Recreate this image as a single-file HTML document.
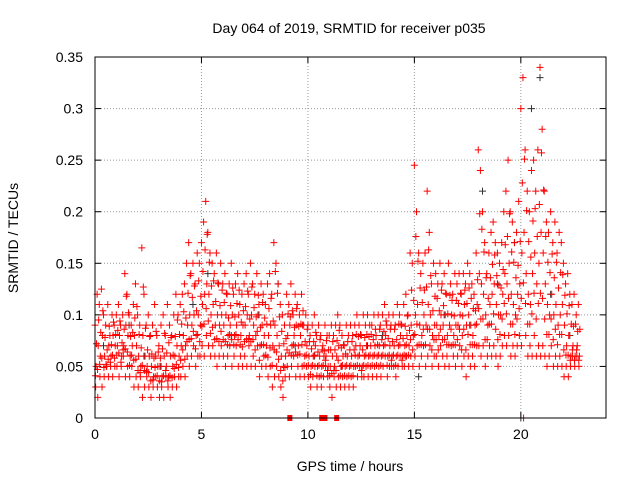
<!DOCTYPE html>
<html><head><meta charset="utf-8"><style>
body{margin:0;background:#fff}
svg text{font-family:"Liberation Sans",sans-serif;font-size:14px;fill:#000}
</style></head><body>
<svg id="chart" width="640" height="480" xmlns="http://www.w3.org/2000/svg">
<rect width="640" height="480" fill="#fff"/>
<text x="349" y="33" text-anchor="middle">Day 064 of 2019, SRMTID for receiver p035</text>
<text transform="translate(18,238) rotate(-90)" text-anchor="middle">SRMTID / TECUs</text>
<text x="350" y="471" text-anchor="middle">GPS time / hours</text>
<g id="grid"></g><g id="ticks"></g><g id="marks"></g>
<rect x="95" y="57" width="511" height="361" fill="none" stroke="#000" stroke-width="1"/>
</svg>
<script>
const xTicks=[0,5,10,15,20];
const yTicks=[0,0.05,0.1,0.15,0.2,0.25,0.3,0.35];
const yTickLabels=["0","0.05","0.1","0.15","0.2","0.25","0.3","0.35"];
const step=0.1;
const highVals=[.09,.12,.11,.125,.10,.09,.11,.08,.10,.09,.10,.11,.09,.10,.14,.12,.10,.09,.11,.13,.10,.09,.165,.12,.09,.10,.08,.09,.11,.08,.07,.09,.10,.08,.11,.09,.08,.10,.12,.10,.11,.12,.13,.15,.17,.14,.15,.13,.16,.15,.17,.19,.21,.18,.16,.15,.14,.16,.13,.15,.13,.14,.12,.13,.15,.12,.13,.14,.11,.12,.13,.14,.12,.15,.13,.12,.14,.11,.13,.12,.11,.13,.14,.12,.17,.15,.13,.11,.10,.09,.12,.11,.13,.10,.12,.11,.10,.12,.09,.10,.09,.08,.09,.10,.08,.09,.08,.07,.09,.08,.08,.09,.08,.09,.10,.09,.08,.07,.09,.08,.09,.08,.09,.10,.09,.08,.10,.09,.10,.09,.09,.10,.08,.10,.09,.10,.11,.09,.10,.09,.10,.09,.11,.10,.09,.11,.12,.10,.16,.15,.245,.20,.16,.14,.15,.16,.22,.18,.13,.15,.14,.13,.15,.13,.14,.12,.15,.13,.12,.14,.13,.14,.12,.14,.13,.15,.14,.13,.12,.16,.26,.24,.20,.17,.14,.16,.18,.19,.17,.16,.15,.17,.20,.22,.25,.20,.19,.17,.18,.21,.30,.33,.26,.22,.20,.24,.25,.22,.26,.34,.28,.22,.19,.18,.20,.17,.19,.16,.18,.17,.15,.13,.14,.12,.11,.12,.10,.11];
const q3Vals=[.072,.095,.083,.104,.078,.066,.089,.071,.093,.081,.085,.094,.073,.086,.118,.102,.079,.083,.097,.108,.081,.068,.127,.087,.066,.079,.062,.058,.084,.064,.058,.067,.082,.063,.073,.078,.061,.079,.095,.081,.091,.103,.097,.121,.138,.117,.128,.104,.133,.118,.142,.163,.178,.151,.128,.133,.113,.131,.109,.124,.112,.121,.097,.109,.126,.098,.111,.124,.093,.104,.108,.123,.096,.127,.107,.098,.119,.088,.112,.097,.091,.106,.116,.094,.142,.121,.098,.084,.072,.077,.101,.098,.104,.088,.106,.089,.091,.104,.074,.086,.074,.067,.074,.083,.064,.076,.066,.065,.075,.066,.066,.074,.066,.075,.085,.068,.071,.062,.074,.066,.074,.066,.081,.079,.081,.066,.078,.081,.079,.081,.076,.086,.071,.086,.076,.084,.094,.077,.086,.074,.086,.076,.091,.091,.077,.089,.099,.085,.124,.114,.176,.152,.126,.112,.124,.127,.163,.138,.104,.118,.116,.104,.124,.109,.121,.101,.119,.114,.099,.114,.111,.121,.099,.124,.111,.126,.116,.106,.104,.134,.198,.183,.161,.136,.116,.136,.149,.158,.138,.129,.126,.144,.168,.176,.198,.161,.151,.136,.148,.171,.228,.251,.201,.171,.156,.191,.203,.176,.207,.257,.221,.176,.151,.141,.159,.136,.151,.126,.141,.139,.119,.101,.109,.091,.089,.091,.084,.086];
const midVals=[.05,.07,.06,.08,.06,.05,.07,.06,.08,.07,.07,.08,.06,.07,.09,.08,.06,.07,.08,.07,.06,.05,.08,.06,.05,.06,.05,.04,.06,.05,.05,.04,.06,.05,.04,.06,.05,.06,.07,.06,.07,.08,.07,.09,.10,.09,.10,.08,.10,.09,.11,.12,.13,.12,.10,.11,.09,.10,.09,.10,.09,.10,.08,.09,.10,.08,.09,.10,.08,.09,.09,.10,.08,.10,.09,.08,.10,.07,.09,.08,.07,.08,.09,.07,.09,.08,.07,.06,.05,.06,.08,.09,.07,.08,.09,.07,.08,.09,.06,.07,.06,.05,.06,.07,.05,.06,.05,.06,.06,.05,.05,.06,.05,.06,.07,.05,.06,.05,.06,.05,.06,.05,.07,.06,.07,.05,.06,.07,.06,.07,.06,.07,.06,.07,.06,.07,.08,.06,.07,.06,.07,.06,.07,.08,.06,.07,.08,.07,.09,.08,.10,.11,.09,.08,.10,.09,.11,.10,.08,.09,.09,.08,.10,.09,.10,.08,.09,.10,.08,.09,.09,.10,.08,.11,.09,.10,.09,.08,.09,.11,.14,.13,.12,.10,.09,.11,.12,.13,.11,.10,.10,.12,.14,.13,.15,.12,.11,.10,.12,.13,.16,.18,.14,.12,.11,.14,.16,.13,.15,.18,.16,.13,.11,.10,.12,.10,.11,.09,.10,.11,.09,.07,.08,.06,.07,.06,.07,.06];
const q1Vals=[.041,.047,.052,.058,.049,.052,.057,.054,.061,.058,.061,.063,.054,.066,.067,.064,.051,.061,.056,.057,.046,.044,.051,.046,.045,.044,.036,.037,.049,.041,.036,.035,.041,.046,.036,.041,.039,.048,.052,.049,.056,.066,.057,.074,.076,.077,.084,.067,.081,.074,.089,.091,.106,.094,.082,.088,.076,.077,.074,.084,.076,.074,.071,.081,.076,.071,.081,.076,.071,.069,.074,.076,.077,.074,.076,.066,.084,.056,.071,.071,.061,.059,.068,.051,.066,.064,.057,.046,.036,.049,.066,.063,.061,.071,.064,.061,.062,.071,.051,.061,.051,.042,.051,.061,.041,.051,.041,.051,.056,.046,.041,.043,.046,.046,.056,.041,.051,.041,.051,.041,.051,.041,.061,.051,.061,.046,.051,.061,.051,.061,.051,.061,.051,.061,.051,.061,.071,.051,.061,.056,.061,.051,.061,.071,.056,.061,.071,.061,.076,.066,.081,.091,.071,.071,.086,.071,.086,.086,.066,.076,.076,.066,.086,.076,.076,.071,.071,.086,.071,.071,.076,.086,.066,.086,.066,.081,.071,.071,.071,.091,.106,.096,.096,.076,.076,.091,.091,.101,.086,.076,.081,.096,.111,.101,.116,.091,.091,.081,.096,.106,.116,.131,.111,.091,.091,.101,.121,.096,.111,.121,.116,.096,.081,.081,.096,.076,.086,.071,.081,.081,.066,.061,.061,.056,.066,.056,.066,.056];
const lowVals=[.03,.02,.04,.03,.04,.05,.04,.05,.04,.05,.05,.04,.05,.06,.04,.05,.04,.05,.03,.04,.03,.04,.02,.03,.04,.03,.02,.03,.04,.03,.02,.03,.02,.04,.03,.02,.03,.04,.03,.04,.04,.05,.04,.06,.05,.06,.07,.05,.06,.06,.07,.06,.08,.07,.06,.07,.06,.05,.06,.07,.06,.05,.06,.07,.05,.06,.07,.05,.06,.05,.06,.05,.07,.05,.06,.05,.07,.04,.05,.06,.05,.04,.05,.03,.04,.05,.04,.03,.02,.04,.05,.04,.05,.06,.04,.05,.04,.05,.04,.05,.04,.03,.04,.05,.03,.04,.03,.04,.05,.04,.03,.02,.04,.03,.04,.03,.04,.03,.04,.03,.04,.03,.05,.04,.05,.04,.04,.05,.04,.05,.04,.05,.04,.05,.04,.05,.06,.04,.05,.05,.05,.04,.05,.06,.05,.05,.06,.05,.06,.05,.06,.07,.05,.06,.07,.05,.06,.07,.05,.06,.06,.05,.07,.06,.05,.06,.05,.07,.06,.05,.06,.07,.05,.06,.04,.06,.05,.06,.05,.07,.07,.06,.07,.05,.06,.07,.06,.07,.06,.05,.06,.07,.08,.07,.08,.06,.07,.06,.07,.08,.07,.00,.08,.06,.07,.06,.08,.06,.07,.06,.07,.06,.05,.06,.07,.05,.06,.05,.06,.05,.04,.05,.04,.05,.06,.05,.06,.05];
const greyTimes=[0.4,1.6,2.3,3.1,4.6,5.3,6.4,7.7,8.6,9.4,10.3,11.6,12.8,13.5,14.6,15.2,16.4,17.6,18.2,18.9,19.7,20.0,20.5,20.9,21.4,22.3];
const greyVals=[0.07,0.09,0.06,0.05,0.11,0.14,0.08,0.10,0.13,0.07,0.06,0.05,0.07,0.08,0.06,0.04,0.10,0.09,0.22,0.13,0.17,0.0,0.30,0.33,0.12,0.08];
const flagTimes=[9.15,10.65,10.8,11.35];

const X0=95,X1=606,Y0=418,Y1=57,XMAX=24,YMAX=0.35;
const xs=t=>X0+(X1-X0)*t/XMAX;
const ys=v=>Y0-(Y0-Y1)*v/YMAX;
const NS="http://www.w3.org/2000/svg";
const mk=(tag,attrs,parent)=>{const e=document.createElementNS(NS,tag);for(const k in attrs)e.setAttribute(k,attrs[k]);parent.appendChild(e);return e;};
const grid=document.getElementById('grid'),ticks=document.getElementById('ticks'),marks=document.getElementById('marks');

yTicks.forEach((v,i)=>{
  const y=ys(v);
  if(i>0&&i<yTicks.length-1){const g=mk('line',{x1:X0,x2:X1,y1:y,y2:y,stroke:'#999','stroke-dasharray':'1,2'},grid);
  
  }
  mk('line',{x1:X0,x2:X0+6,y1:y,y2:y,stroke:'#000'},ticks);
  mk('line',{x1:X1,x2:X1-6,y1:y,y2:y,stroke:'#000'},ticks);
  const t=mk('text',{x:X0-12,y:y+5,'text-anchor':'end'},ticks);t.textContent=yTickLabels[i];
  
  
});
xTicks.forEach(v=>{
  const x=xs(v);
  if(v>0){const g=mk('line',{x1:x,x2:x,y1:Y0,y2:Y1,stroke:'#999','stroke-dasharray':'1,2'},grid);
  
  }
  mk('line',{x1:x,x2:x,y1:Y0,y2:Y0-6,stroke:'#000'},ticks);
  mk('line',{x1:x,x2:x,y1:Y1,y2:Y1+6,stroke:'#000'},ticks);
  const t=mk('text',{x:x,y:Y0+21,'text-anchor':'middle'},ticks);t.textContent=String(v);
  
  
});
function plus(t,v,color){
  const x=xs(t),y=ys(v);
  const p=mk('path',{d:`M${x-3.5},${y}h7M${x},${y-3.5}v7`,stroke:color,'stroke-width':1,fill:'none'},marks);
  
  
}
greyTimes.forEach((t,i)=>plus(t,greyVals[i],'#333'));
highVals.forEach((v,i)=>plus(i*step,v,'#ff0000'));
q3Vals.forEach((v,i)=>plus(i*step+0.07,v,'#ff0000'));
midVals.forEach((v,i)=>plus(i*step+0.05,v,'#ff0000'));
q1Vals.forEach((v,i)=>plus(i*step+0.02,v,'#ff0000'));
lowVals.forEach((v,i)=>plus(i*step+0.03,v,'#ff0000'));
flagTimes.forEach(t=>{
  const r=mk('rect',{x:xs(t)-2.5,y:Y0-3,width:5,height:6,fill:'#ff0000'},marks);
  
  
});
</script>
</body></html>
